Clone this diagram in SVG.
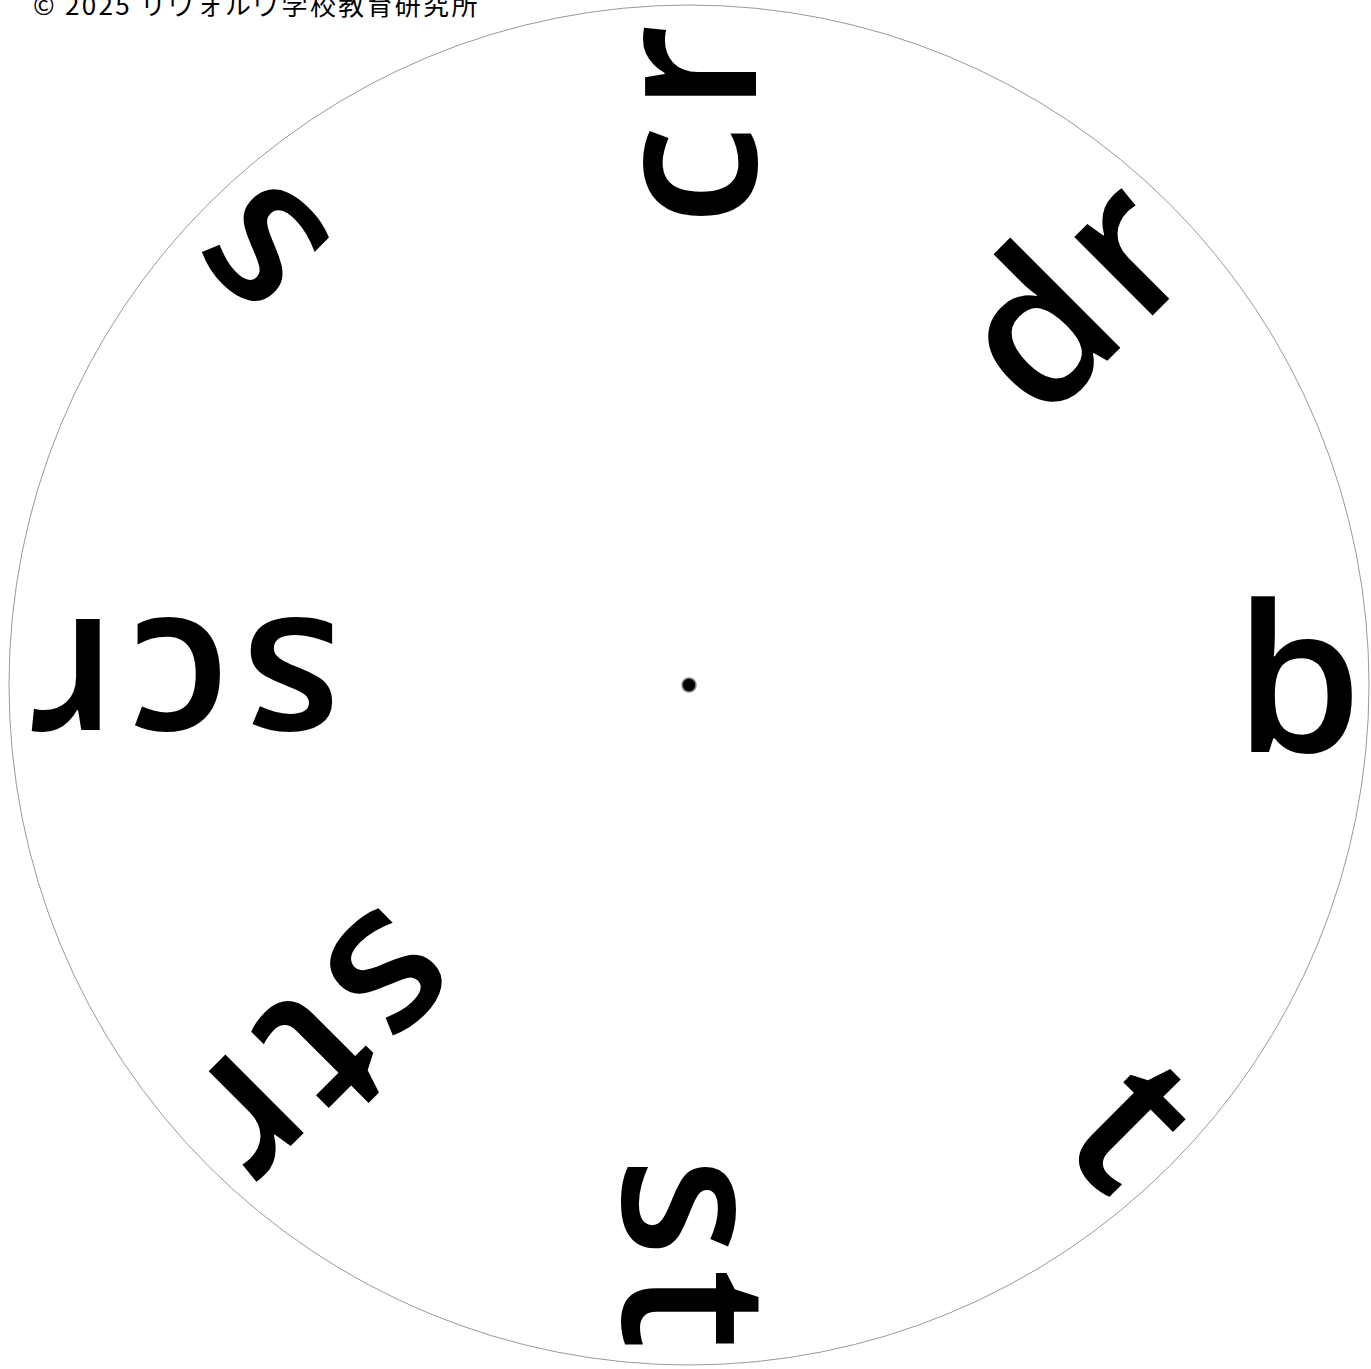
<svg xmlns="http://www.w3.org/2000/svg" width="1371" height="1369" viewBox="0 0 1371 1369">
<style>
.lbl{font-family:"Open Sans","Noto Sans","DejaVu Sans",sans-serif;font-size:205px;font-weight:600;fill:#000;text-anchor:end;dominant-baseline:central;letter-spacing:12px}
.one{letter-spacing:0}
.copy{font-family:"Noto Sans CJK JP","Noto Sans",sans-serif;font-size:26px;fill:#000;letter-spacing:2.3px}
</style>
<rect width="1371" height="1369" fill="#fff"/>
<text class="copy" x="33" y="15">© 2025 リヴォルヴ学校教育研究所</text>
<g id="wheel">
<circle cx="689" cy="685" r="680" fill="none" stroke="#999" stroke-width="1"/>
</g>
<g id="connectors"></g>
<g id="label-cr" transform="rotate(-90 689 685)"><text class="lbl" x="1362" y="672">cr</text></g>
<g id="label-dr" transform="rotate(-45 689 685)"><text class="lbl" x="1362" y="672">dr</text></g>
<g id="label-b" transform="rotate(0 689 685)"><text class="lbl one" x="1362" y="672">b</text></g>
<g id="label-t" transform="rotate(45 689 685)"><text class="lbl one" x="1354" y="672">t</text></g>
<g id="label-st" transform="rotate(90 689 685)"><text class="lbl" x="1366" y="672">st</text></g>
<g id="label-str" transform="rotate(135 689 685)"><text class="lbl" x="1362" y="672">str</text></g>
<g id="label-scr" transform="rotate(180 689 685)"><text class="lbl" x="1362" y="672">scr</text></g>
<g id="label-s" transform="rotate(225 689 685)"><text class="lbl one" x="1350" y="672">s</text></g>
<g id="center"><circle cx="689" cy="685" r="7" fill="#000" stroke="#888" stroke-width="1.5"/></g>
</svg>
